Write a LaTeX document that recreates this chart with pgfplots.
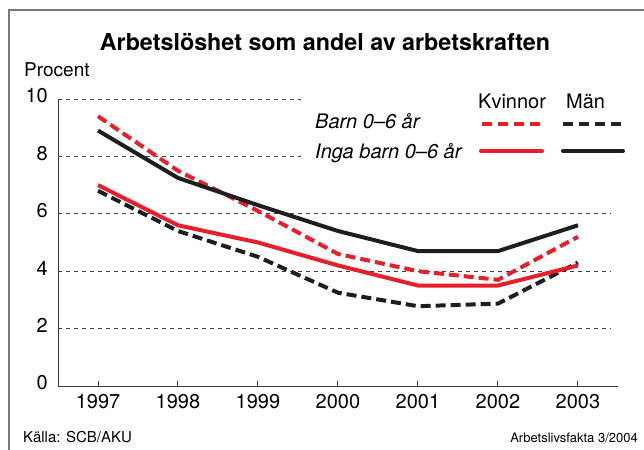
\documentclass[border=0pt]{standalone}
\usepackage{fontspec}
\setmainfont{TeX Gyre Heros}
\usepackage{pgfplots}
\pgfplotsset{compat=1.18}
\definecolor{kred}{RGB}{232,30,42}
\definecolor{kblack}{RGB}{30,30,30}
\definecolor{frame}{RGB}{120,120,120}
\definecolor{axcol}{RGB}{60,60,60}
\tikzset{gridl/.style={color=axcol, line width=0.7bp, dash pattern=on 4bp off 4bp}}
\begin{document}
\begin{tikzpicture}
\useasboundingbox (0bp,0bp) rectangle (644bp,450bp);
\draw[frame, line width=1.2bp] (9bp,0bp) -- (9bp,440bp) -- (644bp,440bp);
\node[font=\fontsize{23.3bp}{27bp}\selectfont\bfseries, inner sep=0pt] at (325bp,408bp) {Arbetslöshet som andel av arbetskraften};
\node[font=\fontsize{19bp}{22bp}\selectfont, inner sep=0pt, anchor=base west] at (24bp,373bp) {Procent};
% gridlines
\draw[gridl] (58bp,351bp) -- (301bp,351bp);
\draw[gridl] (58bp,293.6bp) -- (301bp,293.6bp);
\draw[gridl] (58bp,236.2bp) -- (611bp,236.2bp);
\draw[gridl] (58bp,178.8bp) -- (611bp,178.8bp);
\draw[gridl] (58bp,121.4bp) -- (611bp,121.4bp);
% legend
\node[font=\fontsize{20bp}{24bp}\selectfont, inner sep=0pt, anchor=base west] at (478bp,341bp) {Kvinnor};
\node[font=\fontsize{20bp}{24bp}\selectfont, inner sep=0pt, anchor=base west] at (566bp,341bp) {Män};
\node[font=\fontsize{20bp}{24bp}\selectfont\itshape, inner sep=0pt, anchor=base west] at (315bp,321bp) {Barn 0–6 år};
\node[font=\fontsize{20bp}{24bp}\selectfont\itshape, inner sep=0pt, anchor=base west] at (315bp,291bp) {Inga barn 0–6 år};
\draw[kred, line width=4bp, dash pattern=on 10bp off 6bp] (482bp,326bp) -- (542bp,326bp);
\draw[kblack, line width=4bp, dash pattern=on 10bp off 6bp] (563bp,326bp) -- (623bp,326bp);
\draw[kred, line width=4bp, line cap=round] (481bp,299bp) -- (542bp,299bp);
\draw[kblack, line width=4bp, line cap=round] (563bp,299bp) -- (623bp,299bp);
% footer
\node[font=\fontsize{15bp}{18bp}\selectfont, inner sep=0pt, anchor=base west] at (23bp,8bp) {Källa: SCB/AKU};
\node[font=\fontsize{13bp}{16bp}\selectfont, inner sep=0pt, anchor=base east] at (638bp,8bp) {Arbetslivsfakta 3/2004};
\begin{axis}[
  at={(58bp,64bp)}, anchor=south west,
  scale only axis, width=560bp, height=287bp,
  xmin=1996.5, xmax=2003.5, ymin=0, ymax=10,
  axis x line*=bottom, axis y line*=left,
  axis line style={axcol, line width=1bp},
  xtick={1997,...,2003}, ytick={0,2,...,10},
  tick align=inside, major tick length=5bp,
  xtick style={axcol, line width=1bp},
  ytick style={draw=none},
  /pgf/number format/assume math mode=true,
  /pgf/number format/1000 sep={},
  tick label style={font=\fontsize{20bp}{24bp}\selectfont, inner sep=0pt},
  xticklabel style={anchor=north, yshift=-8bp},
  yticklabel style={anchor=east, xshift=-10bp, yshift=3bp},
  clip=false,
]
\addplot[kred, line width=4bp, dash pattern=on 10bp off 5bp] coordinates {
(1997,9.4) (1998,7.5) (1999,6.1) (2000,4.6) (2001,4.0) (2002,3.7) (2003,5.2)};
\addplot[kblack, line width=4bp, dash pattern=on 10bp off 5bp] coordinates {
(1997,6.8) (1998,5.4) (1999,4.5) (2000,3.25) (2001,2.78) (2002,2.87) (2003,4.3)};
\addplot[kred, line width=4bp] coordinates {
(1997,7.0) (1998,5.6) (1999,5.0) (2000,4.2) (2001,3.5) (2002,3.5) (2003,4.2)};
\addplot[kblack, line width=4bp] coordinates {
(1997,8.9) (1998,7.25) (1999,6.3) (2000,5.4) (2001,4.7) (2002,4.7) (2003,5.6)};
\end{axis}
\end{tikzpicture}
\end{document}
